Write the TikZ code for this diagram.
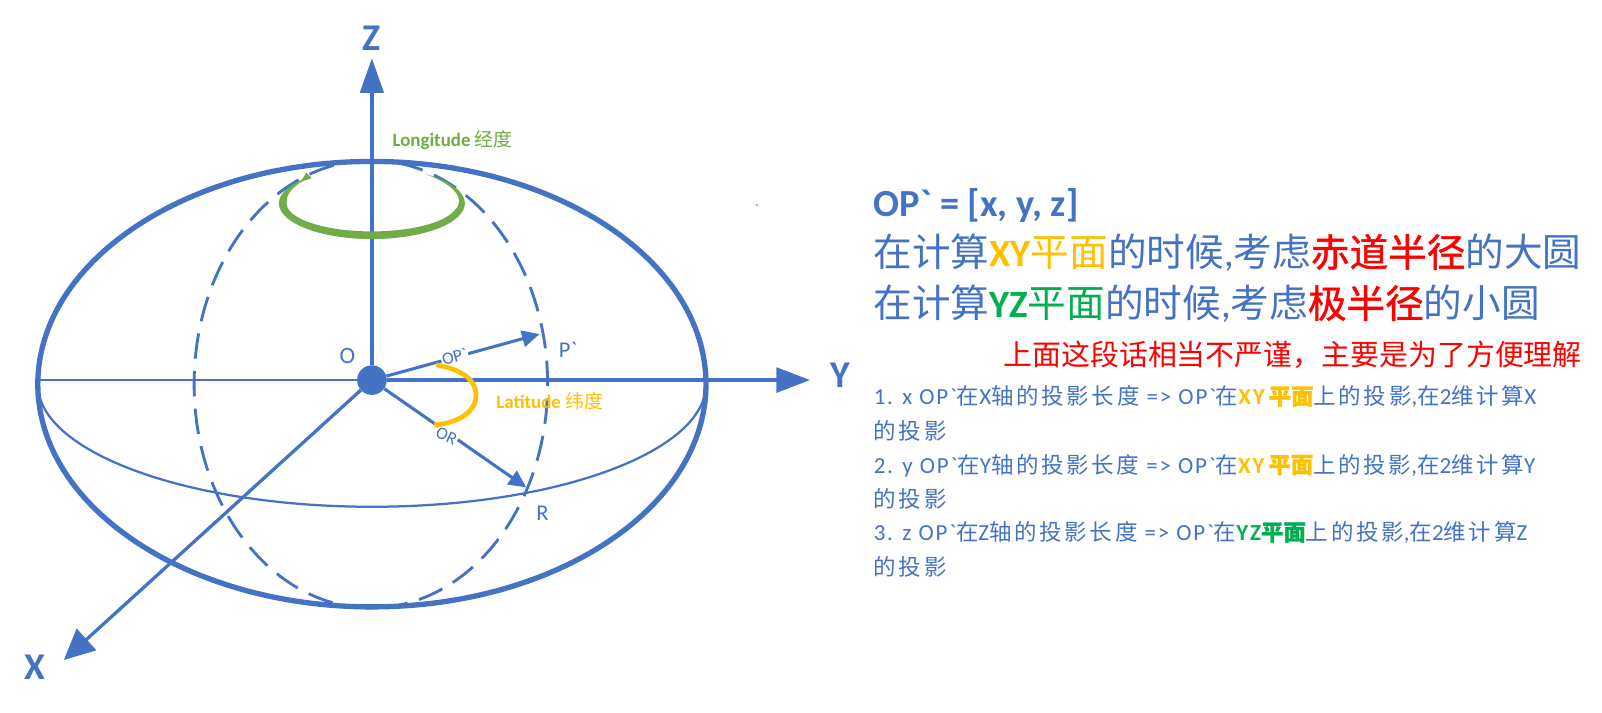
\documentclass[tikz,border=0pt]{standalone}
\usepackage{fontspec}
\usetikzlibrary{arrows.meta}
\setmainfont{Carlito}[Ligatures=TeXOff]
\newfontfamily\ltn{Carlito}[Ligatures=TeXOff,LetterSpace=8]
\newfontfamily\cjk{Noto Sans CJK SC}
\newfontfamily\cjkb[FakeBold=1.2]{Noto Sans CJK SC}
\newfontfamily\cjks[LetterSpace=12]{Noto Sans CJK SC}
\definecolor{blu}{HTML}{4472C4}
\definecolor{grn}{HTML}{70AD47}
\definecolor{yel}{HTML}{FFC000}
\definecolor{gr2}{HTML}{00B050}
\definecolor{rd}{HTML}{FF0000}
\newcommand{\fs}[1]{\fontsize{#1}{#1}\selectfont}
\newcommand{\Zh}[1]{{\fs{22}\cjks #1}}
\newcommand{\Yxy}{{\color{yel}\bfseries XY\,{\fs{22}\cjkb 平面}}}
\newcommand{\Yyz}{{\color{gr2}\bfseries YZ{\fs{22}\cjkb 平面}}}
\tikzset{
  x=1pt,y=-1pt,
  axis/.style={blu,line width=3.2pt,-{Triangle[length=34pt,width=23pt]}},
  vec/.style={blu,line width=3pt,-{Triangle[length=17pt,width=16pt]}},
  lab/.style={text=blu,inner sep=0pt},
  big/.style={lab,anchor=base west,font=\fs{37.8}},
  small/.style={lab,anchor=base west,font=\ltn\fs{22.5}},
  onl/.style={lab,fill=white,inner sep=1pt,font=\fs{17}}
}
\begin{document}
\begin{tikzpicture}
\useasboundingbox (0,0) rectangle (1568,697);
\fill[white] (0,0) rectangle (1568,697);
% coordinates
\coordinate (C) at (364,372);
\coordinate (S) at (364,376);
\coordinate (ZT) at (364,57);
\coordinate (YT) at (793,372);
\coordinate (XT) at (62.5,646);
\coordinate (PT) at (528,327);
\coordinate (RT) at (515,477);
\coordinate (WL) at (37,372);
\coordinate (WR) at (691,372);
\coordinate (WL2) at (37,376);
% sphere
\draw[blu,line width=5.2pt] (S) ellipse [x radius=327pt,y radius=218pt];
\draw[blu,line width=2.8pt,dash pattern=on 25pt off 12pt] (363,157) arc [start angle=90,end angle=450,x radius=173pt,y radius=219pt];
\draw[blu,line width=2.2pt] (WL) -- (WR);
\draw[blu,line width=2.2pt] (WL2) arc [start angle=180,end angle=360,x radius=327pt,y radius=120pt];
% centre and axes
\node[circle,fill=blu,minimum size=29pt,inner sep=0pt] (O) at (C) {};
\draw[axis] (O) -- (ZT);
\draw[axis,line width=3.8pt,-{Triangle[length=33pt,width=24pt]}] (O) -- (YT);
\draw[axis,-{Triangle[length=30pt,width=28pt]}] (O) -- (XT);
\draw[vec] (O) -- (PT);
\draw[vec] (O) -- (RT);
\node[onl,rotate=15] (lop) at (445,349) {OP`};
\node[onl,rotate=-25] (lor) at (437,427) {OR};
% longitude mark
\fill[grn] plot[smooth,domain=130:415,samples=60] ({364+91*cos(\x)},{199-35*sin(\x)})
  -- plot[smooth,domain=415:130,samples=60] ({364+(91-7.5*min(1,(\x-130)/45)*min(1,(415-\x)/70))*cos(\x)},{199-(35-7.5*min(1,(\x-130)/45)*min(1,(415-\x)/70))*sin(\x)}) -- cycle;
\fill[grn] (300,169) -- (305,174.5) -- (294,178) -- cycle;
% latitude mark
\draw[yel,line width=4.6pt] (427,357) .. controls (453,362) and (466,372) .. (466,387) .. controls (466,402) and (450,414) .. (425,416);
% labels
\node[lab,font=\fs{37}\bfseries] (lz) at (364,37) {Z};
\node[lab,font=\fs{37}\bfseries] (ly) at (822,367) {Y};
\node[lab,font=\fs{37}\bfseries] (lx) at (34,653) {X};
\node[lab,font=\fs{23}] (lo) at (340,348) {O};
\node[lab,font=\fs{22}] (lp) at (556,342) {P`};
\node[lab,font=\fs{22}] (lr) at (531,502) {R};
\node[inner sep=0pt,text=grn,font=\fs{18.5}\bfseries] (llon) at (443,137) {Longitude {\cjk\mdseries 经度}};
\node[inner sep=0pt,text=yel,font=\fs{18.5}\bfseries] (llat) at (538,393) {Latitude {\cjk\mdseries 纬度}};
\node[lab,font=\fs{14}] (tick) at (741,205) {`};
% right text
\node[big,font=\fs{37.5}\bfseries] (t0) at (855,212) {OP` = [x, y, z]};
\node[big] (t1) at (855,261) {{\cjk 在计算}{\color{yel}\bfseries XY{\cjk\mdseries 平面}}{\cjk 的时候},{\cjk 考虑}{\color{rd}\cjkb 赤道半径}{\cjk 的大圆}};
\node[big] (t2) at (855,311) {{\cjk 在计算}{\color{gr2}\bfseries YZ{\cjk\mdseries 平面}}{\cjk 的时候},{\cjk 考虑}{\color{rd}\cjkb 极半径}{\cjk 的小圆}};
\node[lab,anchor=base west,text=rd,font=\cjk\fs{28.3}] (t3) at (982,358) {上面这段话相当不严谨，主要是为了方便理解};
\node[small] (s1) at (855,396) {1. x OP`\Zh{在}X\Zh{轴的投影长度} => OP`\Zh{在}\Yxy\Zh{上的投影},\Zh{在}2\Zh{维计算}X};
\node[small] (s1b) at (855,430) {\Zh{的投影}};
\node[small] (s2) at (855,463) {2. y OP`\Zh{在}Y\Zh{轴的投影长度} => OP`\Zh{在}\Yxy\Zh{上的投影},\Zh{在}2\Zh{维计算}Y};
\node[small] (s2b) at (855,497) {\Zh{的投影}};
\node[small] (s3) at (855,529) {3. z OP`\Zh{在}Z\Zh{轴的投影长度} => OP`\Zh{在}\Yyz\Zh{上的投影},\Zh{在}2\Zh{维计算}Z};
\node[small] (s3b) at (855,563) {\Zh{的投影}};
\end{tikzpicture}
\end{document}
